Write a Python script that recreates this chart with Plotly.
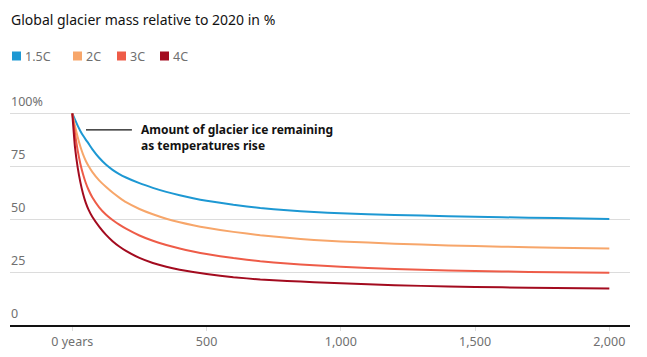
import plotly.graph_objects as go

years = [0, 10, 20, 30, 40, 50, 60, 75, 100, 125, 150, 175, 200, 250, 300, 350, 400, 450, 500,
         600, 700, 800, 900, 1000, 1200, 1400, 1600, 1800, 2000]
c15 = [100, 97, 94.2, 91.7, 89.5, 87.6, 85.8, 83, 79, 75.8, 73.3, 71.3, 69.7, 67, 64.8, 62.9, 61.3, 59.9, 58.7,
       56.8, 55.3, 54.2, 53.4, 52.8, 52, 51.4, 50.9, 50.5, 50.1]
c2 = [100, 94, 88.8, 84.3, 80.6, 77.6, 75.2, 72.2, 68.3, 65.3, 62.6, 60.2, 58, 54.8, 52.3, 50.2, 48.5, 47.1, 45.9,
      44, 42.4, 41.2, 40.2, 39.5, 38.4, 37.6, 37, 36.5, 36.1]
c3 = [100, 90.5, 82.5, 76.2, 71.2, 67.2, 64, 60.2, 55.6, 52.2, 49.6, 47.4, 45.5, 42.3, 39.8, 37.8, 36.1, 34.7, 33.5,
      31.6, 30.1, 29, 28.2, 27.5, 26.5, 25.8, 25.3, 24.9, 24.7]
c4 = [100, 84, 74.5, 67.5, 62, 57.8, 54.6, 51, 46.5, 42.7, 39.6, 37.1, 35, 31.7, 29.3, 27.5, 26.1, 25, 24.1,
      22.6, 21.5, 20.8, 20.2, 19.7, 18.8, 18.2, 17.8, 17.5, 17.3]

series_names = ["1.5C", "2C", "3C", "4C"]
series_values = [c15, c2, c3, c4]
colors = ["#1d98d3", "#f7a66a", "#ee5c48", "#a30b1f"]

x_tickvals = [0, 500, 1000, 1500, 2000]
x_ticktext = ["0 years", "500", "1,000", "1,500", "2,000"]
y_tickvals = [0, 25, 50, 75, 100]
y_ticktext = ["0", "25", "50", "75", "100%"]

FONT = "Noto Sans"

fig = go.Figure()
for name, vals, col in zip(series_names, series_values, colors):
    fig.add_trace(go.Scatter(x=years, y=vals, mode="lines", name=name,
                             line=dict(color=col, width=2, shape="spline", smoothing=0.5),
                             showlegend=False, hoverinfo="skip"))

# page body has an 8px margin, so figure coords = screen coords - 8
OFF = 8
W, H = 647 - OFF, 357 - OFF
ml, mr, mt, mb = 10 - OFF, 17, 100 - OFF, 32
pw = W - ml - mr
ph = H - mt - mb

def px2paper_x(px):
    return (px - OFF - ml) / pw

def px2paper_y(py):
    return (H - mb - (py - OFF)) / ph

annotations = []
shapes = []
# title
annotations.append(dict(text="Global glacier mass relative to 2020 in %", x=px2paper_x(9), y=px2paper_y(OFF),
                        xref="paper", yref="paper", xanchor="left", yanchor="top", showarrow=False,
                        font=dict(family=FONT, size=14, color="#121212")))
# legend
leg_x = [12, 73, 117, 160]
for name, col, lx in zip(series_names, colors, leg_x):
    shapes.append(dict(type="rect", xref="paper", yref="paper",
                       x0=px2paper_x(lx), x1=px2paper_x(lx + 9),
                       y0=px2paper_y(60.5), y1=px2paper_y(51.5),
                       fillcolor=col, line=dict(width=0)))
    annotations.append(dict(text=name, x=px2paper_x(lx + 11), y=px2paper_y(56),
                            xref="paper", yref="paper", xanchor="left", yanchor="middle", showarrow=False,
                            font=dict(family=FONT, size=12.5, color="#707070")))
# y tick labels
for v, t in zip(y_tickvals, y_ticktext):
    annotations.append(dict(text=t, x=px2paper_x(9), y=v, xref="paper", yref="y", xanchor="left",
                            yanchor="bottom", yshift=1, showarrow=False,
                            font=dict(family=FONT, size=12.5, color="#707070")))
# chart annotation
annotations.append(dict(text="<b>Amount of glacier ice remaining<br>as temperatures rise</b>", x=248, y=88.5,
                        xref="x", yref="y", xanchor="left", yanchor="middle", align="left", showarrow=False,
                        font=dict(family=FONT, size=12, color="#121212")))
shapes.append(dict(type="line", xref="x", yref="y", x0=51, x1=222, y0=92.2, y1=92.2,
                   line=dict(color="#121212", width=1.3)))

fig.update_layout(
    width=W, height=H,
    margin=dict(l=ml, r=mr, t=mt, b=mb, pad=0, autoexpand=False),
    paper_bgcolor="white", plot_bgcolor="white",
    annotations=annotations,
    shapes=shapes,
    xaxis=dict(range=[-232, 2077], tickvals=x_tickvals, ticktext=x_ticktext, automargin=False,
               showgrid=False, zeroline=False, showline=True, linecolor="#121212", linewidth=1.5,
               ticks="outside", ticklen=4, tickcolor="#dcdcdc",
               tickfont=dict(family=FONT, size=12.5, color="#707070")),
    yaxis=dict(range=[0, 106.3], tickvals=y_tickvals, showticklabels=False, automargin=False,
               showgrid=True, gridcolor="#dcdcdc", gridwidth=1, zeroline=False),
    showlegend=False,
)

fig.write_html("out.html")
